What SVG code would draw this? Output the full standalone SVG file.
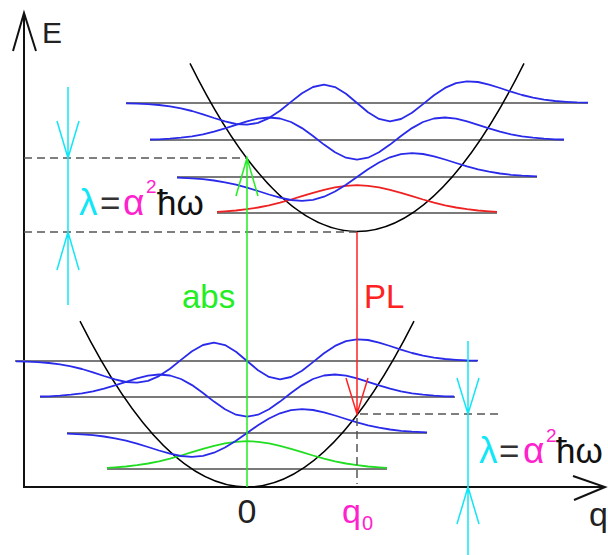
<svg xmlns="http://www.w3.org/2000/svg" width="608" height="555" viewBox="0 0 608 555">
<style>
.lvl{stroke:#7a7a7a;stroke-width:2;fill:none}
.par{stroke:#000;stroke-width:1.5;fill:none}
.wave{stroke:#2a2aea;stroke-width:1.8;fill:none;stroke-linejoin:round}
.gw{stroke:#22dd22;stroke-width:1.8;fill:none;stroke-linejoin:round}
.rw{stroke:#ee2222;stroke-width:1.8;fill:none;stroke-linejoin:round}
.dash{stroke:#555;stroke-width:1.5;fill:none;stroke-dasharray:8 5}
.cy{stroke:#11e6f6;stroke-width:1.5;fill:none}
.ax{stroke:#111;stroke-width:2;fill:none}
.t{font-family:"Liberation Sans",Arial,sans-serif}
</style>
<rect width="608" height="555" fill="#fff"/>
<g id="axes">
<path class="ax" d="M24,488 V14" stroke="#555"/>
<path class="ax" d="M13,51 L24,13 L36,51"/>
<path class="ax" d="M24,487 H605"/>
<path class="ax" d="M573,476 L605,487 L574,500"/>
<text class="t" x="42" y="43" font-size="30" fill="#222">E</text>
<text class="t" x="589" y="526" font-size="34" fill="#222">q</text>
<text class="t" x="247" y="523" font-size="34" fill="#222" text-anchor="middle">0</text>
<text class="t" x="342" y="523" font-size="34" fill="#ff22cc">q<tspan font-size="20" dx="1" dy="7">0</tspan></text>
</g>
<g id="ground-state">
<path class="lvl" d="M15,361 H477 M40,397 H455 M67,433 H427 M107,469 H387"/>
<path class="par" d="M80,321.1 Q247,652.9 414,321.1"/>
<polyline class="gw" points="107,467.9 115,467.4 126,466.5 137,465.2 148,463.5 159,461.3 170,458.6 181,455.5 192,452.1 203,448.8 214,445.8 225,443.4 236,441.8 247,441.2 258,441.8 269,443.4 280,445.8 291,448.8 302,452.1 313,455.5 324,458.6 335,461.3 346,463.5 357,465.2 368,466.5 379,467.4 387,467.9"/>
<polyline class="wave" points="67,433.6 82,434.3 93,435.2 104,436.5 115,438.3 126,440.7 137,443.6 148,447.0 159,450.5 170,453.7 181,456.0 192,456.8 203,455.8 214,452.7 225,447.5 236,440.7 247,433 258,425.3 269,418.5 280,413.3 291,410.2 302,409.2 313,410.0 324,412.3 335,415.5 346,419.0 357,422.4 368,425.3 379,427.7 390,429.5 401,430.8 412,431.7 427,432.4"/>
<polyline class="wave" points="40,396.5 49,396.3 60,395.7 71,394.7 82,393.3 93,391.3 104,388.6 115,385.4 126,381.8 137,378.4 148,375.7 159,374.5 170,375.5 181,379.0 192,385.1 203,393.0 214,401.6 225,409.3 236,414.7 247,416.7 258,414.7 269,409.3 280,401.6 291,393.0 302,385.1 313,379.0 324,375.5 335,374.5 346,375.7 357,378.4 368,381.8 379,385.4 390,388.6 401,391.3 412,393.3 423,394.7 434,395.7 445,396.3 454,396.5"/>
<polyline class="wave" points="16,361.3 27,361.6 38,362.2 49,363.0 60,364.4 71,366.4 82,369.0 93,372.3 104,376.0 115,379.4 126,382.0 137,382.7 148,380.9 159,376.1 170,368.8 181,359.9 192,351.3 203,345.0 214,342.7 225,345.1 236,351.8 247,361 258,370.2 269,376.9 280,379.3 291,377.0 302,370.7 313,362.1 324,353.2 335,345.9 346,341.1 357,339.3 368,340.0 379,342.6 390,346.0 401,349.7 412,353.0 423,355.6 434,357.6 445,359.0 456,359.8 467,360.4 478,360.7"/>
</g>
<g id="excited-state">
<path class="lvl" d="M126,103 H588 M150,140 H564 M177,177 H537 M217,213 H497"/>
<path class="par" d="M190,63.3 Q357,399.7 524,63.3"/>
<polyline class="rw" points="217,211.9 225,211.4 236,210.5 247,209.2 258,207.5 269,205.3 280,202.6 291,199.5 302,196.1 313,192.8 324,189.8 335,187.4 346,185.8 357,185.2 368,185.8 379,187.4 390,189.8 401,192.8 412,196.1 423,199.5 434,202.6 445,205.3 456,207.5 467,209.2 478,210.5 489,211.4 497,211.9"/>
<polyline class="wave" points="177,177.6 192,178.3 203,179.2 214,180.5 225,182.3 236,184.7 247,187.6 258,191.0 269,194.5 280,197.7 291,200.0 302,200.8 313,199.8 324,196.7 335,191.5 346,184.7 357,177 368,169.3 379,162.5 390,157.3 401,154.2 412,153.2 423,154.0 434,156.3 445,159.5 456,163.0 467,166.4 478,169.3 489,171.7 500,173.5 511,174.8 522,175.7 537,176.4"/>
<polyline class="wave" points="150,139.5 159,139.3 170,138.7 181,137.7 192,136.3 203,134.3 214,131.6 225,128.4 236,124.8 247,121.4 258,118.7 269,117.5 280,118.5 291,122.0 302,128.1 313,136.0 324,144.6 335,152.3 346,157.7 357,159.7 368,157.7 379,152.3 390,144.6 401,136.0 412,128.1 423,122.0 434,118.5 445,117.5 456,118.7 467,121.4 478,124.8 489,128.4 500,131.6 511,134.3 522,136.3 533,137.7 544,138.7 555,139.3 564,139.5"/>
<polyline class="wave" points="126,103.3 137,103.6 148,104.2 159,105.0 170,106.4 181,108.4 192,111.0 203,114.3 214,118.0 225,121.4 236,124.0 247,124.7 258,122.9 269,118.1 280,110.8 291,101.9 302,93.3 313,87.0 324,84.7 335,87.1 346,93.8 357,103 368,112.2 379,118.9 390,121.3 401,119.0 412,112.7 423,104.1 434,95.2 445,87.9 456,83.1 467,81.3 478,82.0 489,84.6 500,88.0 511,91.7 522,95.0 533,97.6 544,99.6 555,101.0 566,101.8 577,102.4 588,102.7"/>
</g>
<g id="connectors">
<path class="dash" d="M24,158 H247 M24,232 H357 M360,414 H498 M357,418 V484"/>
<path d="M247,487 V158 M236,196 L247,158 L258,196" stroke="#22ee22" stroke-width="1.5" fill="none"/>
<path d="M357,232 V414 M346,378 L357,414 L368,378" stroke="#ff2222" stroke-width="1.5" fill="none"/>
<path class="cy" d="M68,87 V305 M57,121 L68,158 L79,121 M57,270 L68,232 L79,270"/>
<path class="cy" d="M468,341 V555 M457,378 L468,414 L479,378 M457,524 L468,487 L479,524"/>
</g>
<g id="labels">
<text class="t" x="182" y="308" font-size="33" fill="#22ee22">abs</text>
<text class="t" x="364" y="308" font-size="33" fill="#ff2222">PL</text>
<g id="lambda-left" class="t" font-size="35">
<text x="79" y="215" fill="#11e6f6" font-size="37">λ</text>
<text x="100" y="215" fill="#333">=</text>
<text x="123" y="215" fill="#ff22cc" font-size="37">α</text>
<text x="146" y="193" fill="#ff22cc" font-size="19">2</text>
<text x="157" y="215" fill="#111">ħω</text>
</g>
<g id="lambda-right" class="t" font-size="35">
<text x="479" y="463" fill="#11e6f6" font-size="37">λ</text>
<text x="499" y="463" fill="#333">=</text>
<text x="523" y="463" fill="#ff22cc" font-size="37">α</text>
<text x="546" y="442" fill="#ff22cc" font-size="19">2</text>
<text x="556" y="463" fill="#111">ħω</text>
</g>
</g>
</svg>
